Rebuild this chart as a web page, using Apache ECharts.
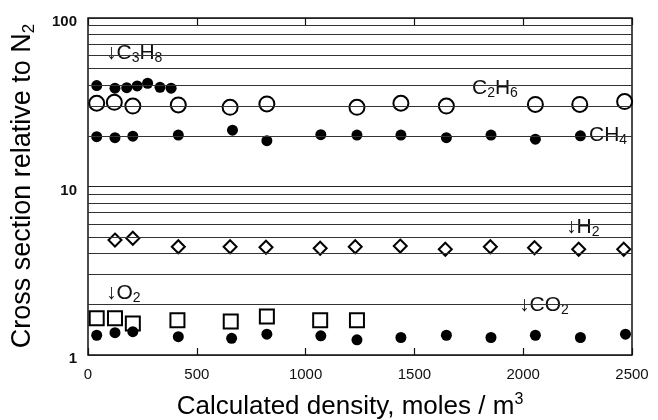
<!DOCTYPE html>
<html>
<head>
<meta charset="utf-8">
<style>
  html, body { margin: 0; padding: 0; background: #fff; }
  #chart { width: 658px; height: 420px; }
</style>
<script src="https://cdn.jsdelivr.net/npm/echarts@6/dist/echarts.min.js"></script>
</head>
<body>
<div id="chart"></div>
<script>
// data (density in moles/m3, cross section relative to N2)
const c3h8X = [40, 124, 178, 226, 274, 331, 382]
const c3h8Y = [39.7, 38.3, 38.6, 39.5, 41.0, 38.8, 38.3]

const c2h6X = [40, 121, 206, 415, 653, 822, 1236, 1438, 1647, 2056, 2260, 2466]
const c2h6Y = [31.2, 31.6, 30.0, 30.5, 29.5, 30.9, 29.5, 31.2, 30.0, 30.7, 30.7, 31.9]

const ch4X = [40, 124, 206, 415, 664, 822, 1070, 1236, 1438, 1647, 1852, 2056, 2263]
const ch4Y = [19.75, 19.5, 19.9, 20.2, 21.6, 18.7, 20.3, 20.2, 20.2, 19.5, 20.2, 19.1, 20.0]

const h2X = [124, 206, 415, 653, 818, 1067, 1228, 1435, 1642, 1849, 2052, 2255, 2462]
const h2Y = [4.81, 4.93, 4.39, 4.39, 4.36, 4.30, 4.39, 4.43, 4.24, 4.39, 4.33, 4.24, 4.24]

const o2X = [40, 124, 206, 411, 656, 822, 1067, 1236]
const o2Y = [1.65, 1.65, 1.54, 1.61, 1.58, 1.69, 1.61, 1.61]

const co2X = [40, 124, 206, 415, 660, 822, 1070, 1236, 1438, 1647, 1852, 2056, 2263, 2470]
const co2Y = [1.31, 1.357, 1.375, 1.285, 1.256, 1.33, 1.30, 1.23, 1.27, 1.31, 1.27, 1.31, 1.27, 1.33]

// horizontal rules between decades
const minorGrid = [2, 3, 4, 5, 6, 7, 8, 9, 20, 30, 40, 50, 60, 70, 80, 90]
const xTicks = [0, 500, 1000, 1500, 2000, 2500]

const FONT = "'Liberation Sans', Arial, Helvetica, sans-serif"
const zip = (xs, ys) => xs.map((x, i) => [x, ys[i]])

const chart = echarts.init(document.getElementById('chart'))

const subRich = {
  m: { fontSize: 21, fontFamily: FONT, color: '#111' },
  s: { fontSize: 14, fontFamily: FONT, color: '#111', padding: [10, 0, 0, 0] }
}

const label = (text, left, top) => ({
  type: 'text',
  left: left,
  top: top,
  silent: true,
  style: { text: text, rich: subRich, fill: '#111' }
})

const option = {
  animation: false,
  grid: {
    left: 88,
    top: 18,
    width: 544,
    height: 337,
    show: true,
    borderColor: '#111',
    borderWidth: 1.5
  },
  xAxis: [
    {
      type: 'value',
      min: 0,
      max: 2500,
      interval: 500,
      axisLine: { show: false },
      axisTick: { show: true, inside: true, length: 7, lineStyle: { color: '#111', width: 1.2 } },
      axisLabel: {
        margin: 12,
        fontSize: 15,
        fontFamily: FONT,
        color: '#111',
        formatter: v => xTicks.includes(v) ? String(v) : ''
      },
      splitLine: { show: false }
    },
    {
      type: 'value',
      position: 'top',
      min: 0,
      max: 2500,
      interval: 500,
      axisLine: { show: false },
      axisTick: { show: true, inside: true, length: 7, lineStyle: { color: '#111', width: 1.2 } },
      axisLabel: { show: false },
      splitLine: { show: false }
    }
  ],
  yAxis: {
    type: 'log',
    logBase: 10,
    min: 1,
    max: 100,
    axisLine: { show: false },
    axisTick: { show: false },
    axisLabel: {
      margin: 11,
      fontSize: 15,
      fontWeight: 'bold',
      fontFamily: FONT,
      color: '#111',
      verticalAlign: 'top',
      lineHeight: 8
    },
    splitLine: { show: true, lineStyle: { color: '#222', width: 1.2 } }
  },
  graphic: [
    label('{m|↓C}{s|3}{m|H}{s|8}', 106, 43),
    label('{m|C}{s|2}{m|H}{s|6}', 472, 78),
    label('{m|CH}{s|4}', 589, 125),
    label('{m|↓H}{s|2}', 566, 217),
    label('{m|↓O}{s|2}', 106, 283),
    label('{m|↓CO}{s|2}', 519, 295),
    {
      type: 'text',
      x: 350,
      y: 407,
      silent: true,
      style: {
        text: '{t|Calculated density, moles / m}{p|3}',
        align: 'center',
        verticalAlign: 'middle',
        rich: {
          t: { fontSize: 26, fontFamily: FONT, color: '#111' },
          p: { fontSize: 16, fontFamily: FONT, color: '#111', padding: [0, 0, 14, 0] }
        }
      }
    },
    {
      type: 'text',
      x: 23,
      y: 186,
      rotation: Math.PI / 2,
      silent: true,
      style: {
        text: '{t|Cross section relative to N}{s|2}',
        align: 'center',
        verticalAlign: 'middle',
        rich: {
          t: { fontSize: 27, fontFamily: FONT, color: '#111' },
          s: { fontSize: 17, fontFamily: FONT, color: '#111', padding: [12, 0, 0, 0] }
        }
      }
    }
  ],
  series: [
    {
      name: 'rules',
      type: 'line',
      data: [],
      markLine: {
        silent: true,
        symbol: 'none',
        label: { show: false },
        lineStyle: { color: '#333', width: 1, type: 'solid' },
        data: minorGrid.map(v => ({ yAxis: v }))
      }
    },
    {
      name: 'C3H8',
      type: 'scatter',
      symbol: 'circle',
      symbolSize: 11,
      itemStyle: { color: '#000', opacity: 1 },
      data: zip(c3h8X, c3h8Y)
    },
    {
      name: 'C2H6',
      type: 'scatter',
      symbol: 'circle',
      symbolSize: 15,
      itemStyle: { color: '#fff', borderColor: '#000', borderWidth: 2, opacity: 1 },
      data: zip(c2h6X, c2h6Y)
    },
    {
      name: 'CH4',
      type: 'scatter',
      symbol: 'circle',
      symbolSize: 11,
      itemStyle: { color: '#000', opacity: 1 },
      data: zip(ch4X, ch4Y)
    },
    {
      name: 'H2',
      type: 'scatter',
      symbol: 'diamond',
      symbolSize: 13,
      itemStyle: { color: '#fff', borderColor: '#000', borderWidth: 2, opacity: 1 },
      data: zip(h2X, h2Y)
    },
    {
      name: 'O2',
      type: 'scatter',
      symbol: 'rect',
      symbolSize: 14,
      itemStyle: { color: '#fff', borderColor: '#000', borderWidth: 2, opacity: 1 },
      data: zip(o2X, o2Y)
    },
    {
      name: 'CO2',
      type: 'scatter',
      symbol: 'circle',
      symbolSize: 11,
      itemStyle: { color: '#000', opacity: 1 },
      data: zip(co2X, co2Y)
    }
  ]
}

chart.setOption(option)
</script>
</body>
</html>
